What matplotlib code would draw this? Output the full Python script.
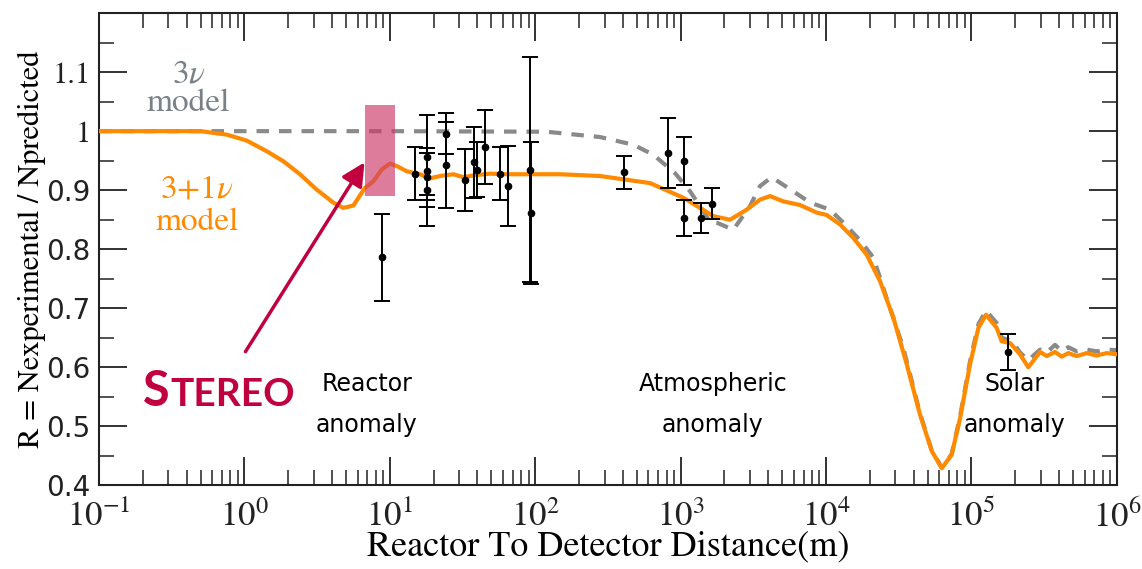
import numpy as np
import matplotlib
matplotlib.use("Agg")
import matplotlib.pyplot as plt
import matplotlib.ticker as ticker
from matplotlib.patches import Rectangle, FancyArrowPatch

plt.rcParams['mathtext.fontset'] = 'stix'

# ---------------- data ----------------
# 3+1 nu model (orange), log10(L/m) vs R
logL_31 = [-1.0, -0.6, -0.3, -0.12, 0.016, 0.153, 0.268, 0.382, 0.497, 0.611, 0.68,
           0.749, 0.829, 0.887, 0.944, 1.0, 1.047, 1.116, 1.208, 1.276, 1.345, 1.437,
           1.506, 1.574, 1.689, 1.804, 2.03, 2.17, 2.446, 2.79, 3.02, 3.133, 3.225,
           3.34, 3.454, 3.546, 3.615, 3.706, 3.82, 3.936, 4.004, 4.096, 4.188, 4.279,
           4.371, 4.463, 4.555, 4.646, 4.727, 4.796, 4.864, 4.922, 4.99, 5.048, 5.1,
           5.173, 5.208, 5.266, 5.334, 5.391, 5.472, 5.517, 5.575, 5.621, 5.666,
           5.724, 5.792, 5.861, 5.93, 6.0]
R_31 = [1.0, 1.0, 1.0, 0.994, 0.984, 0.966, 0.949, 0.927, 0.901, 0.879, 0.870,
        0.874, 0.904, 0.915, 0.935, 0.945, 0.941, 0.932, 0.927, 0.920, 0.924, 0.927,
        0.922, 0.925, 0.928, 0.927, 0.927, 0.927, 0.924, 0.912, 0.887, 0.870, 0.856,
        0.850, 0.867, 0.884, 0.890, 0.881, 0.875, 0.862, 0.858, 0.842, 0.819, 0.791,
        0.746, 0.684, 0.605, 0.520, 0.458, 0.429, 0.452, 0.514, 0.605, 0.667, 0.689,
        0.667, 0.644, 0.641, 0.622, 0.600, 0.626, 0.619, 0.626, 0.618, 0.624,
        0.619, 0.624, 0.620, 0.624, 0.622]

# 3 nu model (grey dashed)
logL_3 = [-1.0, 0.0, 1.0, 2.078, 2.446, 2.675, 2.812, 2.961, 3.065, 3.202, 3.248,
          3.362, 3.477, 3.546, 3.626, 3.775, 3.89, 4.027, 4.119, 4.234, 4.325,
          4.417, 4.531, 4.646, 4.727, 4.796, 4.864, 4.922, 4.99, 5.048, 5.1, 5.173,
          5.208, 5.28, 5.334, 5.391, 5.472, 5.517, 5.575, 5.621, 5.666, 5.724,
          5.792, 5.861, 5.93, 6.0]
R_3 = [1.0, 1.0, 1.0, 0.999, 0.990, 0.977, 0.960, 0.929, 0.898, 0.847, 0.845,
       0.833, 0.873, 0.907, 0.922, 0.898, 0.879, 0.867, 0.845, 0.815, 0.786,
       0.717, 0.633, 0.522, 0.459, 0.430, 0.453, 0.517, 0.610, 0.673, 0.696, 0.675,
       0.650, 0.644, 0.625, 0.612, 0.630, 0.625, 0.638, 0.627, 0.634, 0.627,
       0.630, 0.627, 0.630, 0.629]

# reactor experiments: distance (m), ratio, error
dist = [8.87, 14.9, 17.9, 17.9, 17.9, 17.9, 24.2, 24.2, 32.9, 37.9, 39.6, 45.2,
        57.3, 65.3, 92.0, 93.0, 408, 822, 1055, 1050, 1380, 1652, 179500]
ratio = [0.786, 0.928, 0.956, 0.932, 0.922, 0.901, 0.996, 0.942, 0.917, 0.947,
         0.935, 0.973, 0.928, 0.907, 0.935, 0.861, 0.930, 0.963, 0.949, 0.853,
         0.853, 0.877, 0.626]
err = [0.074, 0.045, 0.072, 0.040, 0.050, 0.062, 0.035, 0.073, 0.053, 0.060,
       0.046, 0.063, 0.045, 0.068, 0.190, 0.120, 0.028, 0.060, 0.041, 0.030,
       0.026, 0.026, 0.031]

stereo_range = (6.76, 10.9)      # m
stereo_R = (0.891, 1.044)

xticks_exp = [-1, 0, 1, 2, 3, 4, 5, 6]
yticks = [0.4, 0.5, 0.6, 0.7, 0.8, 0.9, 1.0, 1.1]
ytick_labels = ['0.4', '0.5', '0.6', '0.7', '0.8', '0.9', '1', '1.1']

ORANGE = '#ff8a00'
GREY = '#8a8a8a'
CRIMSON = '#c0003f'

fig = plt.figure(figsize=(11.42, 5.69), dpi=100)
ax = fig.add_axes([0.0867, 0.147, 0.8913, 0.830])

ax.plot(10 ** np.array(logL_3), R_3, color=GREY, lw=3, dashes=(3, 2.4), zorder=2)
ax.plot(10 ** np.array(logL_31), R_31, color=ORANGE, lw=3, zorder=3,
        solid_capstyle='round')
ax.errorbar(dist, ratio, yerr=err, fmt='o', color='black', ms=4.5, lw=1.4,
            capsize=5.5, capthick=1.4, zorder=4)

ax.add_patch(Rectangle((stereo_range[0], stereo_R[0]),
                       stereo_range[1] - stereo_range[0], stereo_R[1] - stereo_R[0],
                       facecolor='#ce3d6a', alpha=0.67, edgecolor='none', zorder=5))

ax.set_xscale('log')
ax.set_xlim(0.1, 1e6)
ax.set_ylim(0.4, 1.2)
ax.set_xticks([10.0 ** e for e in xticks_exp])
ax.set_xticklabels([r'$10^{%d}$' % e for e in xticks_exp], fontsize=25)
ax.xaxis.set_minor_locator(ticker.LogLocator(base=10, subs=np.arange(2, 10), numticks=20))
ax.xaxis.set_minor_formatter(ticker.NullFormatter())
ax.set_yticks(yticks)
ax.set_yticklabels(ytick_labels, fontsize=22)
for lab in ax.get_yticklabels():
    lab.set_family('STIXGeneral' if lab.get_text() in ('1', '1.1') else 'DejaVu Sans')
    if lab.get_text() not in ('1', '1.1'):
        lab.set_fontsize(20)
ax.yaxis.set_minor_locator(ticker.MultipleLocator(0.05))
ax.tick_params(which='both', direction='in', top=True, right=True, colors='#222222')
ax.tick_params(which='major', length=20, width=1.3, pad=6)
ax.tick_params(which='minor', length=11, width=1.1)
ax.tick_params(axis='x', which='major', pad=10)
for sp in ax.spines.values():
    sp.set_linewidth(1.5)
    sp.set_color('#222222')

ax.set_xlabel('Reactor To Detector Distance(m)', family='STIXGeneral', fontsize=26,
              labelpad=-2)
ax.set_ylabel('R = Nexperimental / Npredicted', family='STIXGeneral', fontsize=22,
              labelpad=0)

# model labels
ax.text(0.088, 0.870, r'3$\nu$', transform=ax.transAxes, ha='center', va='center',
        family='STIXGeneral', fontsize=24, color='#7a8088')
ax.text(0.088, 0.810, 'model', transform=ax.transAxes, ha='center', va='center',
        family='STIXGeneral', fontsize=24, color='#7a8088')
ax.text(0.096, 0.625, r'3+1$\nu$', transform=ax.transAxes, ha='center', va='center',
        family='STIXGeneral', fontsize=24, color=ORANGE)
ax.text(0.096, 0.558, 'model', transform=ax.transAxes, ha='center', va='center',
        family='STIXGeneral', fontsize=24, color=ORANGE)

# anomaly labels
for xc, name in [(0.263, 'Reactor'), (0.603, 'Atmospheric'), (0.899, 'Solar')]:
    ax.text(xc, 0.215, name, transform=ax.transAxes, ha='center', va='center',
            family='DejaVu Sans', fontsize=17)
    ax.text(xc, 0.127, 'anomaly', transform=ax.transAxes, ha='center', va='center',
            family='DejaVu Sans', fontsize=17)

# STEREO label + arrow
fig.text(143 / 1142, 1 - 392 / 569, 'S', ha='left', va='center', family='Lato',
         weight='bold', fontsize=35, color=CRIMSON)
fig.text(170 / 1142, 1 - 395 / 569, 'TEREO', ha='left', va='center', family='Lato',
         weight='bold', fontsize=28, color=CRIMSON)
arrow = FancyArrowPatch((244 / 1142, 1 - 354 / 569), (366 / 1142, 1 - 160 / 569),
                        transform=fig.transFigure, arrowstyle='-|>,head_length=14,head_width=7',
                        color=CRIMSON, lw=2.5, zorder=6)
fig.patches.append(arrow)

fig.savefig('out.png', dpi=100)
